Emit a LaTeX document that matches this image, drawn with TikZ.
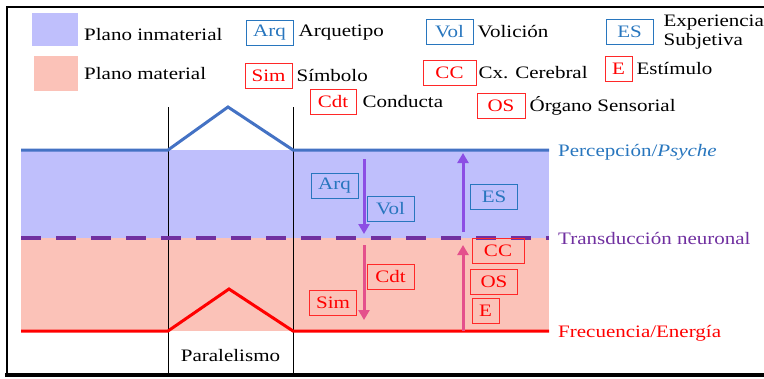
\documentclass[tikz,border=0pt]{standalone}
\usepackage{fontspec}
\setmainfont[FakeStretch=1.2]{Liberation Serif}
\usetikzlibrary{positioning, arrows.meta}
\definecolor{inmat}{RGB}{191,191,252}
\definecolor{mat}{RGB}{251,194,184}
\definecolor{lineablue}{RGB}{68,114,196}
\definecolor{boxblue}{RGB}{40,118,190}
\definecolor{transd}{RGB}{112,48,160}
\definecolor{flechamor}{RGB}{140,78,228}
\definecolor{flecharos}{RGB}{228,80,140}
\definecolor{boxred}{RGB}{255,40,40}

\begin{document}
\begin{tikzpicture}[x=1pt, y=-1pt, font=\fontsize{17.5}{19}\selectfont,
  every node/.style={inner sep=0pt},
  azul/.style={draw=boxblue, text=boxblue, line width=0.8pt, minimum width=47, minimum height=25},
  rojo/.style={draw=boxred, text=red, line width=0.8pt, minimum width=47, minimum height=25},
  leyenda/.style={anchor=west},
  flecha/.style={line width=3pt, -{Triangle[length=10pt, width=11pt]}}]
  \useasboundingbox (0,0) rectangle (764,378);
  % marco
  \draw[line width=1.5pt] (7,375) -- (7,7) -- (764,7);
  \draw[line width=4pt] (5,375) -- (764,375);
  % leyenda
  \fill[inmat] (32,13) rectangle (78,46);
  \fill[mat] (34,56) rectangle (78,91);
  \node[leyenda] (tinm) at (84,35) {Plano inmaterial};
  \node[leyenda] (tmat) at (84,74) {Plano material};
  \node[azul] (larq) at (269.5,32.5) {Arq};
  \node[leyenda, right=5pt of larq] (tarq) {Arquetipo};
  \node[rojo] (lsim) at (268.5,75.5) {Sim};
  \node[leyenda, right=4pt of lsim] (tsim) {Símbolo};
  \node[rojo, minimum width=46] (lcdt) at (333,101.5) {Cdt};
  \node[leyenda, right=6pt of lcdt] (tcdt) {Conducta};
  \node[azul] (lvol) at (449.5,32) {Vol};
  \node[leyenda, right=4pt of lvol] (tvol) {Volición};
  \node[azul] (les) at (629.5,32) {ES};
  \node[leyenda, align=left, right=10pt of les] (tes) {Experiencia\\Subjetiva};
  \node[rojo, minimum width=53] (lcc) at (449.5,73) {CC};
  \node[leyenda, right=2pt of lcc] (tcc) {Cx. Cerebral};
  \node[rojo, minimum width=27] (le) at (618.5,68.5) {E};
  \node[leyenda, right=4pt of le] (te) {Estímulo};
  \node[rojo, minimum width=48] (los) at (501,105.5) {OS};
  \node[leyenda, right=4pt of los] (tos) {Órgano Sensorial};
  % planos
  \fill[inmat] (21,150) rectangle (549,238);
  \fill[mat] (21,238) rectangle (549,331);
  \draw[line width=0.9pt] (168,107) -- (168,375);
  \draw[line width=0.9pt] (293,107) -- (293,375);
  \node (par) at (230.5,356) {Paralelismo};
  \draw[lineablue, line width=3pt] (21,150) -- (168,150) -- (228,107) -- (293,150) -- (549,150);
  \draw[transd, line width=3.5pt, dash pattern=on 20pt off 15pt] (21,238) -- (549,238);
  \draw[red, line width=3pt] (21,331) -- (168,331) -- (229,289) -- (293,331) -- (549,331);
  \node[leyenda, text=boxblue] (tperc) at (558,152) {Percepción/\textit{Psyche}};
  \node[leyenda, text=transd] (ttran) at (558,238) {Transducción neuronal};
  \node[leyenda, text=red] (tfrec) at (558,333) {Frecuencia/Energía};
  % flechas
  \coordinate (vi) at (364,159);
  \coordinate (vf) at (364,234);
  \coordinate (ci) at (364,245);
  \coordinate (cf) at (364,320);
  \coordinate (ei) at (463,232);
  \coordinate (ef) at (463,153);
  \coordinate (si) at (463,331);
  \coordinate (sf) at (463,245);
  \draw[flecha, flechamor] (vi) -- (vf);
  \draw[flecha, flecharos] (ci) -- (cf);
  \draw[flecha, flechamor] (ei) -- (ef);
  \draw[flecha, flecharos] (si) -- (sf);
  % cajas
  \node[azul] (arq) at (334.5,185.5) {Arq};
  \node[azul] (vol) at (390.5,209) {Vol};
  \node[azul] (es) at (494,197) {ES};
  \node[rojo] (cdt) at (390.5,277) {Cdt};
  \node[rojo] (sim) at (333,302.5) {Sim};
  \node[rojo, minimum width=52] (cc) at (498,251) {CC};
  \node[rojo] (os) at (494,281.5) {OS};
  \node[rojo, minimum width=27] (e) at (485.5,311) {E};
\end{tikzpicture}
\end{document}
